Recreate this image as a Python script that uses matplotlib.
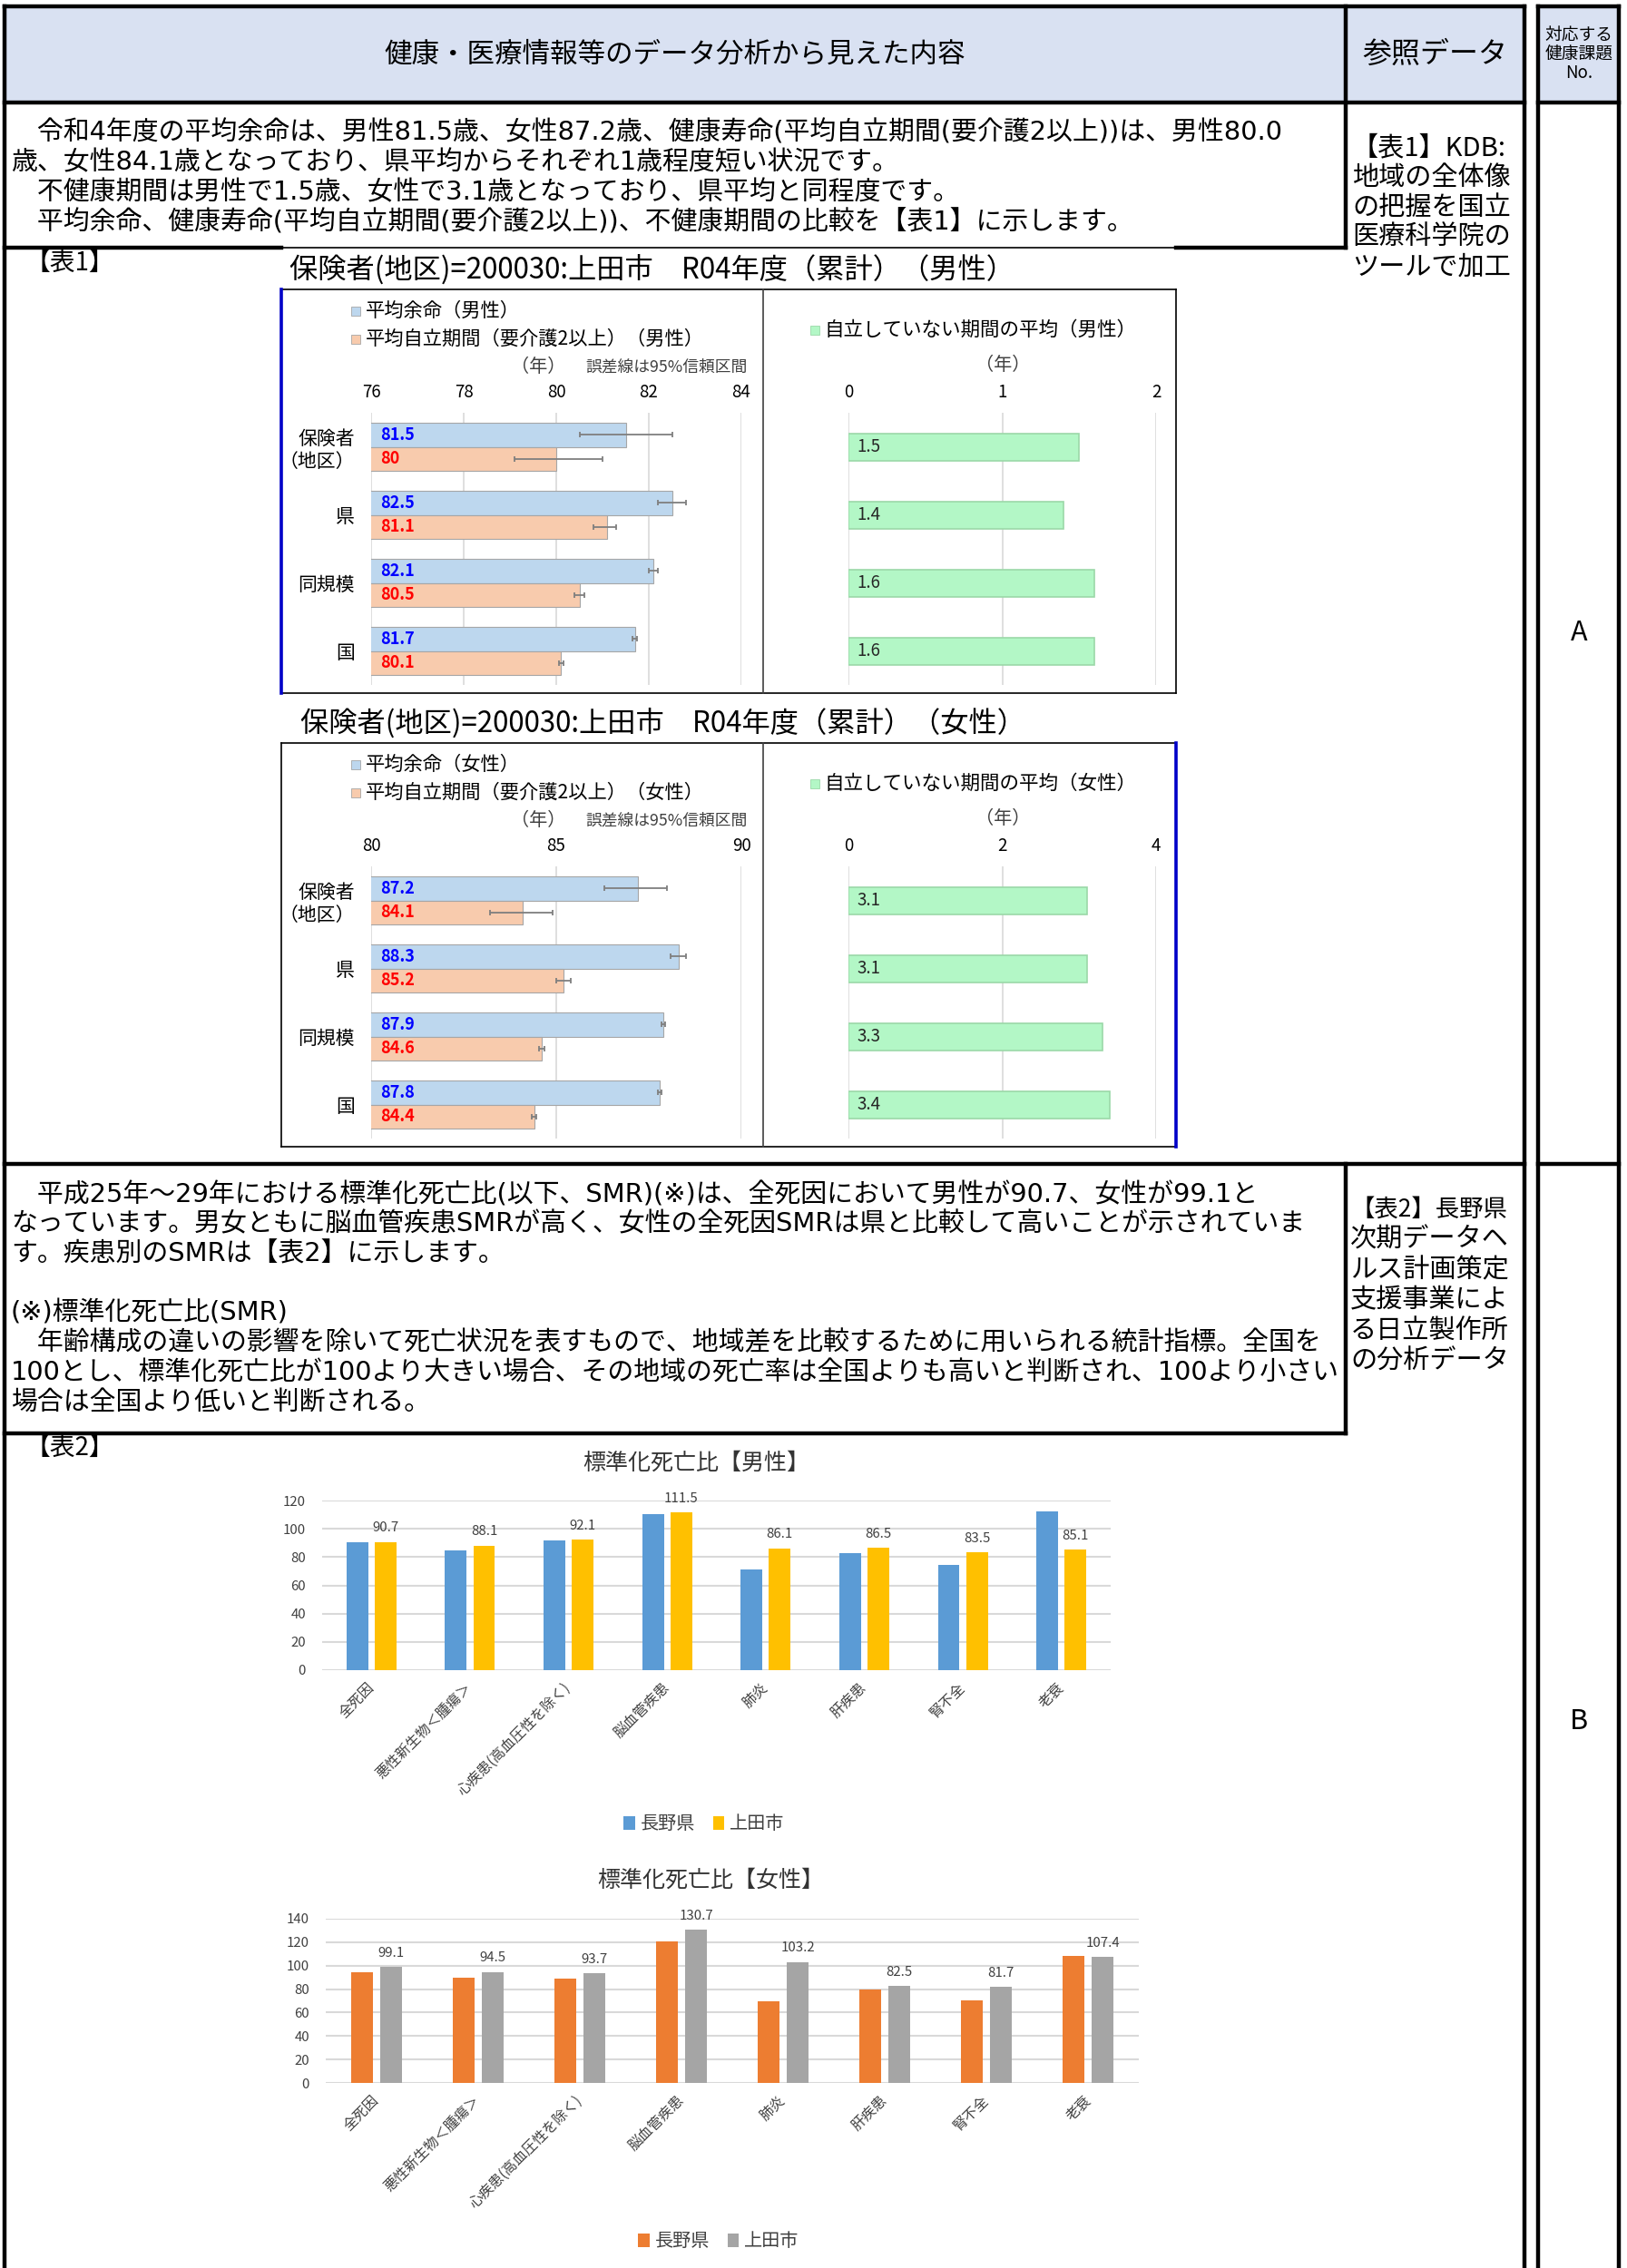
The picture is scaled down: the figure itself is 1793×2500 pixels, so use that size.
import matplotlib
matplotlib.use("Agg")
import matplotlib.pyplot as plt
from matplotlib.patches import Rectangle
import numpy as np

plt.rcParams['font.family'] = ['Noto Sans CJK JP', 'DejaVu Sans']
body_font = ['DejaVu Sans', 'Noto Sans CJK JP']   # wider digits, like the original

W, H = 1793, 2500

# ---- 表1 data (KDB) ----
le_groups = ['保険者\n（地区）', '県', '同規模', '国']

male_life = [81.5, 82.5, 82.1, 81.7]
male_life_lo = [80.5, 82.2, 82.0, 81.65]
male_life_hi = [82.5, 82.8, 82.2, 81.75]
male_indep = [80.0, 81.1, 80.5, 80.1]
male_indep_lo = [79.1, 80.8, 80.4, 80.05]
male_indep_hi = [81.0, 81.3, 80.6, 80.15]
male_unhealthy = [1.5, 1.4, 1.6, 1.6]

female_life = [87.2, 88.3, 87.9, 87.8]
female_life_lo = [86.3, 88.1, 87.85, 87.75]
female_life_hi = [88.0, 88.5, 87.95, 87.85]
female_indep = [84.1, 85.2, 84.6, 84.4]
female_indep_lo = [83.2, 85.0, 84.53, 84.35]
female_indep_hi = [84.9, 85.4, 84.67, 84.45]
female_unhealthy = [3.1, 3.1, 3.3, 3.4]

# ---- 表2 data (SMR) ----
smr_causes = ['全死因', '悪性新生物＜腫瘍＞', '心疾患(高血圧性を除く)', '脳血管疾患',
              '肺炎', '肝疾患', '腎不全', '老衰']
smr_male_pref = [90.4, 84.6, 91.5, 110.4, 71.1, 82.9, 74.4, 112.5]
smr_male_city = [90.7, 88.1, 92.1, 111.5, 86.1, 86.5, 83.5, 85.1]
smr_female_pref = [94.0, 89.4, 88.6, 120.9, 69.7, 79.6, 70.5, 108.2]
smr_female_city = [99.1, 94.5, 93.7, 130.7, 103.2, 82.5, 81.7, 107.4]

# ---- texts ----
text_a = ['　令和4年度の平均余命は、男性81.5歳、女性87.2歳、健康寿命(平均自立期間(要介護2以上))は、男性80.0',
          '歳、女性84.1歳となっており、県平均からそれぞれ1歳程度短い状況です。',
          '　不健康期間は男性で1.5歳、女性で3.1歳となっており、県平均と同程度です。',
          '　平均余命、健康寿命(平均自立期間(要介護2以上))、不健康期間の比較を【表1】に示します。']
text_b = ['　平成25年～29年における標準化死亡比(以下、SMR)(※)は、全死因において男性が90.7、女性が99.1と',
          'なっています。男女ともに脳血管疾患SMRが高く、女性の全死因SMRは県と比較して高いことが示されていま',
          'す。疾患別のSMRは【表2】に示します。',
          '',
          '(※)標準化死亡比(SMR)',
          '　年齢構成の違いの影響を除いて死亡状況を表すもので、地域差を比較するために用いられる統計指標。全国を',
          '100とし、標準化死亡比が100より大きい場合、その地域の死亡率は全国よりも高いと判断され、100より小さい',
          '場合は全国より低いと判断される。']
ref_a = ['【表1】KDB:', '地域の全体像', 'の把握を国立', '医療科学院の', 'ツールで加工']
ref_b = ['【表2】長野県', '次期データヘ', 'ルス計画策定', '支援事業によ', 'る日立製作所', 'の分析データ']

fig = plt.figure(figsize=(W / 100, H / 100), dpi=100)
bg = fig.add_axes([0, 0, 1, 1])
bg.set_xlim(0, W)
bg.set_ylim(H, 0)
bg.axis('off')


def box(x0, y0, x1, y1):
    return fig.add_axes([x0 / W, 1 - y1 / H, (x1 - x0) / W, (y1 - y0) / H])


def line(xs, ys, lw=3.2, c='black'):
    bg.plot(xs, ys, color=c, lw=lw, solid_capstyle='projecting')


# table frame
bg.add_patch(Rectangle((5, 7), 1675, 106, fc='#D9E1F2', ec='none'))
bg.add_patch(Rectangle((1695, 7), 89, 106, fc='#D9E1F2', ec='none'))
for y in [7, 113, 1283]:
    line([5, 1680], [y, y])
    line([1695, 1784], [y, y])
for x in [5, 1680, 1695, 1784]:
    line([x, x], [7, H + 5])
line([1483, 1483], [7, 273])
line([1483, 1483], [1283, 1580])
line([5, 310], [273, 273])
line([310, 1296], [273, 273], lw=1.2)
line([1296, 1483], [273, 273])
line([5, 1483], [1580, 1580])

bg.text(744, 60, '健康・医療情報等のデータ分析から見えた内容', ha='center', va='center', fontsize=22)
bg.text(1581, 60, '参照データ', ha='center', va='center', fontsize=23)
bg.text(1740, 60, '対応する\n健康課題\nNo.', ha='center', va='center', fontsize=13.5, linespacing=1.0)

for i, s in enumerate(text_a):
    bg.text(12, 146 + 33 * i, s, ha='left', va='center', fontsize=20.8, family=body_font)
for i, s in enumerate(text_b):
    if s:
        bg.text(12, 1317 + 32.7 * i, s, ha='left', va='center', fontsize=20.8, family=body_font)
for i, s in enumerate(ref_a):
    bg.text(1490, 163 + 33 * i, s, ha='left', va='center', fontsize=21)
for i, s in enumerate(ref_b):
    bg.text(1488, 1333 + 33.5 * i, s, ha='left', va='center', fontsize=19 if i == 0 else 21)
bg.text(1740, 698, 'A', ha='center', va='center', fontsize=22)
bg.text(1740, 1897, 'B', ha='center', va='center', fontsize=22)
bg.text(28, 290, '【表1】', ha='left', va='center', fontsize=20)
bg.text(28, 1596, '【表2】', ha='left', va='center', fontsize=20)


def life_panel(dy, title, title_x, sex, life, life_lo, life_hi, indep, indep_lo, indep_hi,
               unhealthy, xmin, xmax, xstep, rmax, rstep, blue_left):
    bg.text(title_x, 297 + dy, title, ha='left', va='center', fontsize=22.5)
    top, bot = 319 + dy, 764 + dy
    line([310, 1296], [top, top], lw=1.2)
    line([310, 1296], [bot, bot], lw=1.2)
    line([841, 841], [top, bot], lw=1.2, c='#404040')
    line([310, 310], [top, bot], lw=2.6 if blue_left else 1.2, c='#0000C8' if blue_left else 'black')
    line([1296, 1296], [top, bot], lw=1.2 if blue_left else 2.6, c='black' if blue_left else '#0000C8')

    # legends
    for j, (lab, col) in enumerate([('平均余命（%s）' % sex, '#BDD7EE'),
                                    ('平均自立期間（要介護2以上）（%s）' % sex, '#F8CBAD')]):
        yc = 343 + dy + 31 * j
        bg.add_patch(Rectangle((387, yc - 5), 10, 10, fc=col, ec='#A6A6A6', lw=0.6))
        bg.text(403, yc, lab, ha='left', va='center', fontsize=15.3)
    bg.add_patch(Rectangle((893, 364 + dy - 5), 10, 10, fc='#B3F7C6', ec='#9BD8A8', lw=0.6))
    bg.text(908, 364 + dy, '自立していない期間の平均（%s）' % sex, ha='left', va='center', fontsize=15.5)
    bg.text(563, 405 + dy, '（年）', ha='left', va='center', fontsize=14.5, color='#404040')
    bg.text(645, 405 + dy, '誤差線は95%信頼区間', ha='left', va='center', fontsize=12.8, color='#404040')
    bg.text(1105, 402 + dy, '（年）', ha='center', va='center', fontsize=14.5, color='#404040')

    pos = np.arange(len(le_groups))
    h = 0.35
    life = np.array(life)
    indep = np.array(indep)
    ax = box(409, 455 + dy, 817, 755 + dy)
    ax.barh(pos - h / 2, life, height=h, color='#BDD7EE', edgecolor='#A6A6A6', lw=0.8,
            xerr=[life - np.array(life_lo), np.array(life_hi) - life],
            error_kw=dict(ecolor='#7F7F7F', elinewidth=1.3, capsize=2.5, capthick=1.3))
    ax.barh(pos + h / 2, indep, height=h, color='#F8CBAD', edgecolor='#A6A6A6', lw=0.8,
            xerr=[indep - np.array(indep_lo), np.array(indep_hi) - indep],
            error_kw=dict(ecolor='#7F7F7F', elinewidth=1.3, capsize=2.5, capthick=1.3))
    off = xmin + 0.025 * (xmax - xmin)
    for p, a, b in zip(pos, life, indep):
        ax.text(off, p - h / 2, f'{a:g}', color='#0000FF', va='center', ha='left',
                fontsize=13, fontweight='bold')
        ax.text(off, p + h / 2, f'{b:g}', color='#FF0000', va='center', ha='left',
                fontsize=13, fontweight='bold')
    ax.set_xlim(xmin, xmax)
    ax.set_ylim(3.5, -0.5)
    ax.set_xticks(np.arange(xmin, xmax + 0.1, xstep))
    ax.xaxis.tick_top()
    ax.set_yticks(pos, labels=le_groups)
    ax.tick_params(axis='x', length=0, pad=9, labelsize=13.5)
    ax.tick_params(axis='y', length=0, pad=13, labelsize=15)
    ax.grid(axis='x', color='#D9D9D9', lw=1.2)
    ax.set_axisbelow(True)
    for s in ax.spines.values():
        s.set_visible(False)
    ax.patch.set_alpha(0)

    ax2 = box(935, 455 + dy, 1274, 755 + dy)
    ax2.barh(pos, unhealthy, height=0.4, color='#B3F7C6', edgecolor='#9BD8A8', lw=1.2)
    for p, v in zip(pos, unhealthy):
        ax2.text(0.027 * rmax, p, f'{v:g}', va='center', ha='left', fontsize=13.5, color='#262626')
    ax2.set_xlim(0, rmax)
    ax2.set_ylim(3.5, -0.5)
    ax2.set_xticks(np.arange(0, rmax + 0.1, rstep))
    ax2.xaxis.tick_top()
    ax2.set_yticks([])
    ax2.tick_params(axis='x', length=0, pad=9, labelsize=13.5)
    ax2.grid(axis='x', color='#D9D9D9', lw=1.2)
    ax2.set_axisbelow(True)
    for s in ax2.spines.values():
        s.set_visible(False)
    ax2.patch.set_alpha(0)


life_panel(0, '保険者(地区)=200030:上田市　R04年度（累計）（男性）', 319, '男性',
           male_life, male_life_lo, male_life_hi, male_indep, male_indep_lo, male_indep_hi,
           male_unhealthy, 76, 84, 2, 2, 1, True)
life_panel(500, '保険者(地区)=200030:上田市　R04年度（累計）（女性）', 331, '女性',
           female_life, female_life_lo, female_life_hi, female_indep, female_indep_lo, female_indep_hi,
           female_unhealthy, 80, 90, 5, 4, 2, False)


def smr_panel(rect, title, title_xy, legend_xy, pref, city, c_pref, c_city, ymax):
    ax = box(*rect)
    x = np.arange(len(smr_causes))
    w = 0.22
    b1 = ax.bar(x - 0.143, pref, w, color=c_pref, label='長野県')
    b2 = ax.bar(x + 0.143, city, w, color=c_city, label='上田市')
    for xi, v in zip(x, city):
        ax.annotate(f'{v}', (xi + 0.143, v), xytext=(0, 6), textcoords='offset points',
                    ha='center', va='bottom', fontsize=10.8, color='#404040')
    ax.set_xlim(-0.5, len(smr_causes) - 0.5)
    ax.set_ylim(0, ymax)
    ax.set_yticks(np.arange(0, ymax + 1, 20))
    ax.set_xticks(x)
    ax.set_xticklabels(smr_causes, rotation=45, ha='right', va='center', rotation_mode='anchor',
                       fontsize=11.3, color='#404040')
    ax.tick_params(axis='x', length=0, pad=12)
    ax.tick_params(axis='y', length=0, pad=13, labelsize=10.8, labelcolor='#404040')
    ax.grid(axis='y', color='#D9D9D9', lw=1.5)
    ax.set_axisbelow(True)
    for s in ax.spines.values():
        s.set_visible(False)
    ax.patch.set_alpha(0)
    bg.text(title_xy[0], title_xy[1], title, ha='center', va='center', fontsize=18, color='#333333')
    ax.legend(handles=[b1, b2], loc='center', bbox_to_anchor=(legend_xy[0] / W, 1 - legend_xy[1] / H),
              bbox_transform=fig.transFigure, ncol=2, frameon=False, fontsize=14.5,
              handlelength=0.6, handleheight=0.8, handletextpad=0.3, columnspacing=1.0,
              labelcolor='#404040')


smr_panel((355, 1654, 1224, 1841), '標準化死亡比【男性】', (767, 1613), (776, 2011),
          smr_male_pref, smr_male_city, '#5B9BD5', '#FFC000', 120)
smr_panel((359, 2115, 1255, 2296), '標準化死亡比【女性】', (783, 2073), (792, 2471),
          smr_female_pref, smr_female_city, '#ED7D31', '#A5A5A5', 140)

fig.savefig('out.png', dpi=100)
